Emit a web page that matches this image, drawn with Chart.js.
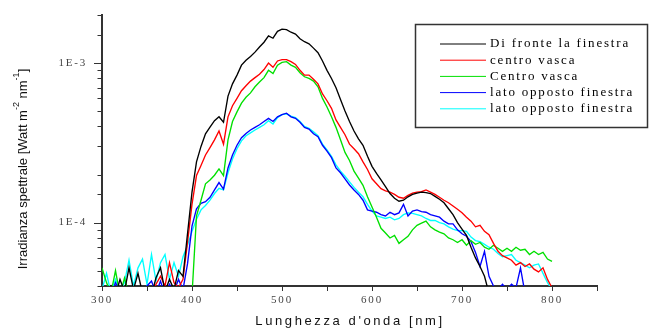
<!DOCTYPE html>
<html>
<head>
<meta charset="utf-8">
<script src="https://cdn.jsdelivr.net/npm/chart.js@4.4.1/dist/chart.umd.min.js"></script>
<style>
  html, body { margin: 0; padding: 0; background: #fff; }
  #wrap { width: 651px; height: 328px; }
</style>
</head>
<body>
<div id="wrap"><canvas id="c" width="651" height="328"></canvas></div>
<script>
// Wavelength grid (nm)
const wavelengths = [300,305,310,315,320,325,330,335,340,345,350,355,360,365,370,375,380,385,390,395,
  400,405,410,415,420,425,430,435,440,445,450,455,460,465,470,475,480,485,490,495,
  500,505,510,515,520,525,530,535,540,545,550,555,560,565,570,575,580,585,590,595,
  600,605,610,615,620,625,630,635,640,645,650,655,660,665,670,675,680,685,690,695,
  700,705,710,715,720,725,730,735,740,745,750,755,760,765,770,775,780,785,790,795,800];

const seriesLabels = ['Di fronte la finestra', 'centro vasca', 'Centro vasca', 'lato opposto finestra', 'lato opposto finestra'];
const seriesColors = ['#000000', '#ff0000', '#00e000', '#0000ff', '#00ffff'];

// Irradianza spettrale [W m-2 nm-1]
const diFronte = [3.5e-5,3.6e-5,4.0e-5,3.5e-5,4.4e-5,3.7e-5,5.2e-5,3.8e-5,4.8e-5,3.6e-5,3.9e-5,3.5e-5,4.5e-5,5.2e-5,3.7e-5,4.4e-5,3.8e-5,5.0e-5,4.6e-5,8.5e-5,
  1.55e-4,2.4e-4,3.0e-4,3.6e-4,3.96e-4,4.35e-4,4.6e-4,4.25e-4,6.2e-4,7.4e-4,8.4e-4,9.7e-4,1.04e-3,1.1e-3,1.17e-3,1.26e-3,1.35e-3,1.48e-3,1.43e-3,1.58e-3,
  1.63e-3,1.62e-3,1.56e-3,1.52e-3,1.42e-3,1.36e-3,1.32e-3,1.24e-3,1.16e-3,1.03e-3,9.0e-4,8.0e-4,7.0e-4,5.9e-4,5.0e-4,4.3e-4,3.75e-4,3.35e-4,3.05e-4,2.6e-4,
  2.25e-4,2.03e-4,1.85e-4,1.68e-4,1.52e-4,1.42e-4,1.36e-4,1.38e-4,1.45e-4,1.5e-4,1.53e-4,1.55e-4,1.54e-4,1.52e-4,1.46e-4,1.4e-4,1.33e-4,1.22e-4,1.12e-4,1.0e-4,
  9.1e-5,8.3e-5,7.0e-5,6.0e-5,5.3e-5,4.6e-5,3.6e-5,3.0e-5,null,null,null,null,null,null,null,null,null,null,null,null,null];

const centroVasca1 = [3.5e-5,3.5e-5,3.5e-5,3.5e-5,3.5e-5,3.6e-5,3.5e-5,3.8e-5,3.5e-5,3.5e-5,3.6e-5,3.5e-5,4.1e-5,4.6e-5,4.0e-5,5.6e-5,4.2e-5,3.9e-5,4.4e-5,7.5e-5,
  1.3e-4,1.97e-4,2.28e-4,2.65e-4,2.95e-4,3.3e-4,3.75e-4,3.1e-4,4.6e-4,5.4e-4,6.0e-4,6.7e-4,7.2e-4,7.7e-4,8.1e-4,8.5e-4,9.1e-4,1.0e-3,9.4e-4,1.03e-3,
  1.05e-3,1.05e-3,1.02e-3,9.8e-4,9.0e-4,8.4e-4,8.4e-4,7.9e-4,7.4e-4,6.4e-4,5.8e-4,5.2e-4,4.4e-4,3.95e-4,3.55e-4,3.1e-4,2.9e-4,2.7e-4,2.4e-4,2.15e-4,
  1.88e-4,1.75e-4,1.63e-4,1.58e-4,1.55e-4,1.5e-4,1.44e-4,1.42e-4,1.48e-4,1.53e-4,1.55e-4,1.56e-4,1.6e-4,1.55e-4,1.5e-4,1.44e-4,1.38e-4,1.33e-4,1.27e-4,1.21e-4,
  1.15e-4,1.08e-4,1.02e-4,9.4e-5,9.6e-5,8.8e-5,8.4e-5,7.4e-5,6.6e-5,6.2e-5,6.0e-5,5.8e-5,5.4e-5,5.6e-5,5.3e-5,5.5e-5,5.1e-5,4.9e-5,5.2e-5,4.4e-5,3.9e-5];

const centroVasca2 = [5.2e-5,4.2e-5,3.6e-5,5.0e-5,3.5e-5,4.5e-5,3.5e-5,3.5e-5,3.5e-5,3.5e-5,3.5e-5,3.5e-5,3.5e-5,3.5e-5,3.5e-5,3.5e-5,3.5e-5,3.5e-5,3.5e-5,3.5e-5,
  3.5e-5,1.1e-4,1.38e-4,1.75e-4,1.85e-4,1.98e-4,2.17e-4,1.97e-4,3.3e-4,4.3e-4,4.94e-4,5.6e-4,6.1e-4,6.5e-4,7.1e-4,7.6e-4,8.1e-4,9.0e-4,8.6e-4,9.7e-4,
  1.01e-3,1.02e-3,9.7e-4,9.4e-4,8.7e-4,8.2e-4,8.0e-4,7.7e-4,7.1e-4,6.0e-4,5.3e-4,4.6e-4,3.95e-4,3.3e-4,2.75e-4,2.45e-4,2.1e-4,1.9e-4,1.71e-4,1.45e-4,
  1.25e-4,1.08e-4,9.2e-5,8.6e-5,8.0e-5,8.3e-5,7.4e-5,7.8e-5,8.2e-5,9.0e-5,9.6e-5,9.9e-5,1.02e-4,9.4e-5,9.0e-5,8.7e-5,8.5e-5,8.0e-5,7.8e-5,7.5e-5,
  7.8e-5,7.2e-5,7.7e-5,7.3e-5,7.5e-5,7.0e-5,6.8e-5,7.2e-5,6.9e-5,6.6e-5,6.9e-5,6.6e-5,7.0e-5,6.7e-5,6.8e-5,6.3e-5,6.6e-5,6.3e-5,6.5e-5,5.9e-5,5.7e-5];

const latoOpposto1 = [3.5e-5,3.6e-5,3.5e-5,4.2e-5,3.7e-5,3.5e-5,3.9e-5,3.5e-5,3.6e-5,3.5e-5,4.0e-5,4.3e-5,3.6e-5,4.3e-5,3.5e-5,4.1e-5,3.7e-5,4.4e-5,3.8e-5,5.5e-5,
  9.5e-5,1.22e-4,1.32e-4,1.35e-4,1.44e-4,1.6e-4,1.78e-4,1.62e-4,2.2e-4,2.65e-4,3.05e-4,3.4e-4,3.62e-4,3.8e-4,3.95e-4,4.1e-4,4.3e-4,4.5e-4,4.3e-4,4.6e-4,
  4.75e-4,4.85e-4,4.6e-4,4.5e-4,4.25e-4,3.95e-4,3.85e-4,3.6e-4,3.45e-4,3.05e-4,2.8e-4,2.55e-4,2.2e-4,2.05e-4,1.88e-4,1.72e-4,1.6e-4,1.5e-4,1.38e-4,1.2e-4,
  1.18e-4,1.16e-4,1.12e-4,1.1e-4,1.16e-4,1.12e-4,1.15e-4,1.3e-4,1.1e-4,1.18e-4,1.2e-4,1.17e-4,1.16e-4,1.12e-4,1.1e-4,1.08e-4,1.02e-4,9.8e-5,9.8e-5,9.0e-5,
  8.5e-5,8.2e-5,7.6e-5,6.5e-5,5.3e-5,6.6e-5,4.6e-5,4.0e-5,3.8e-5,4.1e-5,3.8e-5,4.1e-5,3.9e-5,5.2e-5,3.6e-5,3.0e-5,null,null,null,null,null];

const latoOpposto2 = [3.8e-5,4.8e-5,3.6e-5,4.4e-5,3.7e-5,4.2e-5,5.8e-5,4.0e-5,5.2e-5,5.9e-5,4.1e-5,6.3e-5,4.3e-5,5.6e-5,6.3e-5,4.4e-5,5.6e-5,4.6e-5,6.1e-5,7.2e-5,
  8.8e-5,1.05e-4,1.2e-4,1.28e-4,1.38e-4,1.52e-4,1.64e-4,1.6e-4,2.05e-4,2.5e-4,2.9e-4,3.25e-4,3.5e-4,3.65e-4,3.8e-4,3.95e-4,4.1e-4,4.35e-4,4.15e-4,4.55e-4,
  4.75e-4,4.8e-4,4.65e-4,4.55e-4,4.3e-4,4.0e-4,3.9e-4,3.7e-4,3.5e-4,3.1e-4,2.85e-4,2.6e-4,2.3e-4,2.1e-4,1.95e-4,1.8e-4,1.66e-4,1.55e-4,1.45e-4,1.3e-4,
  1.18e-4,1.1e-4,1.08e-4,1.06e-4,1.08e-4,1.04e-4,1.06e-4,1.12e-4,1.15e-4,1.14e-4,1.12e-4,1.1e-4,1.06e-4,1.03e-4,1.03e-4,1.0e-4,9.8e-5,9.4e-5,9.1e-5,8.9e-5,
  8.9e-5,8.8e-5,8.1e-5,7.7e-5,7.6e-5,7.3e-5,7.0e-5,6.8e-5,6.4e-5,6.1e-5,6.2e-5,6.3e-5,5.8e-5,5.6e-5,5.4e-5,5.2e-5,5.4e-5,5.5e-5,4.8e-5,4.2e-5,3.8e-5];

const allSeries = [diFronte, centroVasca1, centroVasca2, latoOpposto1, latoOpposto2];

// tick labels
const xLabelTicks = [300, 400, 500, 600, 700, 800];
const yLabelTicks = { '1e-3': '1E-3', '1e-4': '1E-4' };

function isDecade(v) {
  const e = Math.log10(v);
  return Math.abs(e - Math.round(e)) < 1e-6;
}

// draws tick marks, axis titles and the boxed legend
const decorations = {
  id: 'decorations',
  beforeDraw(chart) {
    chart.ctx.letterSpacing = '1.8px';
  },
  afterDraw(chart) {
    const ctx = chart.ctx;
    const xs = chart.scales.x, ys = chart.scales.y;
    const area = chart.chartArea;
    ctx.save();
    ctx.letterSpacing = '0px';
    ctx.strokeStyle = '#333';
    ctx.lineWidth = 1;

    // y ticks: long at decades, short elsewhere
    ys.ticks.forEach(t => {
      const p = Math.round(ys.getPixelForValue(t.value)) + 0.5;
      const len = isDecade(t.value) ? 8 : 4.5;
      ctx.beginPath();
      ctx.moveTo(area.left - len, p);
      ctx.lineTo(area.left, p);
      ctx.stroke();
    });
    // x ticks
    xs.ticks.forEach(t => {
      const p = Math.round(xs.getPixelForValue(t.value)) + 0.5;
      ctx.beginPath();
      ctx.moveTo(p, area.bottom);
      ctx.lineTo(p, area.bottom + 5);
      ctx.stroke();
    });

    // x title
    ctx.fillStyle = '#111';
    ctx.font = '13px "Liberation Sans", Arial, sans-serif';
    ctx.letterSpacing = '2.6px';
    ctx.textAlign = 'center';
    ctx.textBaseline = 'middle';
    ctx.fillText("Lunghezza d'onda [nm]", 350, 321);

    // y title with superscripts
    ctx.letterSpacing = '0px';
    const parts = [['Irradianza spettrale [Watt m', false], ['-2', true], [' nm', false], ['-1', true], [']', false]];
    const mainFont = '13px "Liberation Sans", Arial, sans-serif';
    const supFont = '9px "Liberation Sans", Arial, sans-serif';
    let total = 0;
    parts.forEach(p => { ctx.font = p[1] ? supFont : mainFont; total += ctx.measureText(p[0]).width; });
    ctx.translate(23, 169);
    ctx.rotate(-Math.PI / 2);
    ctx.textAlign = 'left';
    let cx = -total / 2;
    parts.forEach(p => {
      ctx.font = p[1] ? supFont : mainFont;
      ctx.fillText(p[0], cx, p[1] ? -6 : 0);
      cx += ctx.measureText(p[0]).width;
    });
    ctx.setTransform(1, 0, 0, 1, 0, 0);

    // legend box
    ctx.fillStyle = '#fff';
    ctx.fillRect(415, 24, 233, 104);
    ctx.strokeStyle = '#333';
    ctx.lineWidth = 1.5;
    ctx.strokeRect(415.5, 24.5, 232, 103);
    ctx.font = '13px "Liberation Serif", "Times New Roman", serif';
    ctx.letterSpacing = '1.8px';
    ctx.textAlign = 'left';
    ctx.textBaseline = 'middle';
    chart.data.datasets.forEach((ds, i) => {
      const y = 44 + i * 16.2;
      ctx.strokeStyle = ds.borderColor;
      ctx.lineWidth = 1;
      ctx.beginPath();
      ctx.moveTo(440, y);
      ctx.lineTo(486, y);
      ctx.stroke();
      ctx.fillStyle = '#000';
      ctx.fillText(ds.label, 490, y);
    });
    ctx.restore();
  }
};

const datasets = allSeries.map((s, i) => ({
  label: seriesLabels[i],
  data: s.map((v, j) => ({ x: wavelengths[j], y: v })),
  borderColor: seriesColors[i],
  borderWidth: 1.35,
  pointRadius: 0,
  tension: 0,
  spanGaps: false
}));

new Chart(document.getElementById('c'), {
  type: 'line',
  data: { datasets: datasets },
  options: {
    responsive: false,
    devicePixelRatio: 1,
    animation: false,
    layout: { padding: { top: 15, right: 54, left: 0, bottom: 0 } },
    plugins: { legend: { display: false }, tooltip: { enabled: false } },
    scales: {
      x: {
        type: 'linear',
        min: 300,
        max: 850,
        afterFit(s) { s.height = 42; },
        ticks: {
          stepSize: 50,
          autoSkip: false,
          maxRotation: 0,
          padding: 3,
          color: '#444',
          font: { family: '"Liberation Serif", "Times New Roman", serif', size: 11 },
          callback: v => xLabelTicks.includes(v) ? String(v) : ''
        },
        grid: { drawOnChartArea: false, drawTicks: true, tickLength: 5, tickColor: 'rgba(0,0,0,0)' },
        border: { color: '#333', width: 2 }
      },
      y: {
        type: 'logarithmic',
        min: 4e-5,
        max: 2e-3,
        afterFit(s) { s.width = 102; },
        ticks: {
          autoSkip: false,
          padding: 7,
          color: '#444',
          font: { family: '"Liberation Serif", "Times New Roman", serif', size: 11 },
          callback: v => isDecade(v) ? (yLabelTicks[Number(v).toExponential(0)] || '') : ''
        },
        grid: { drawOnChartArea: false, drawTicks: true, tickLength: 8, tickColor: 'rgba(0,0,0,0)' },
        border: { color: '#333', width: 2 }
      }
    }
  },
  plugins: [decorations]
});
</script>
</body>
</html>
